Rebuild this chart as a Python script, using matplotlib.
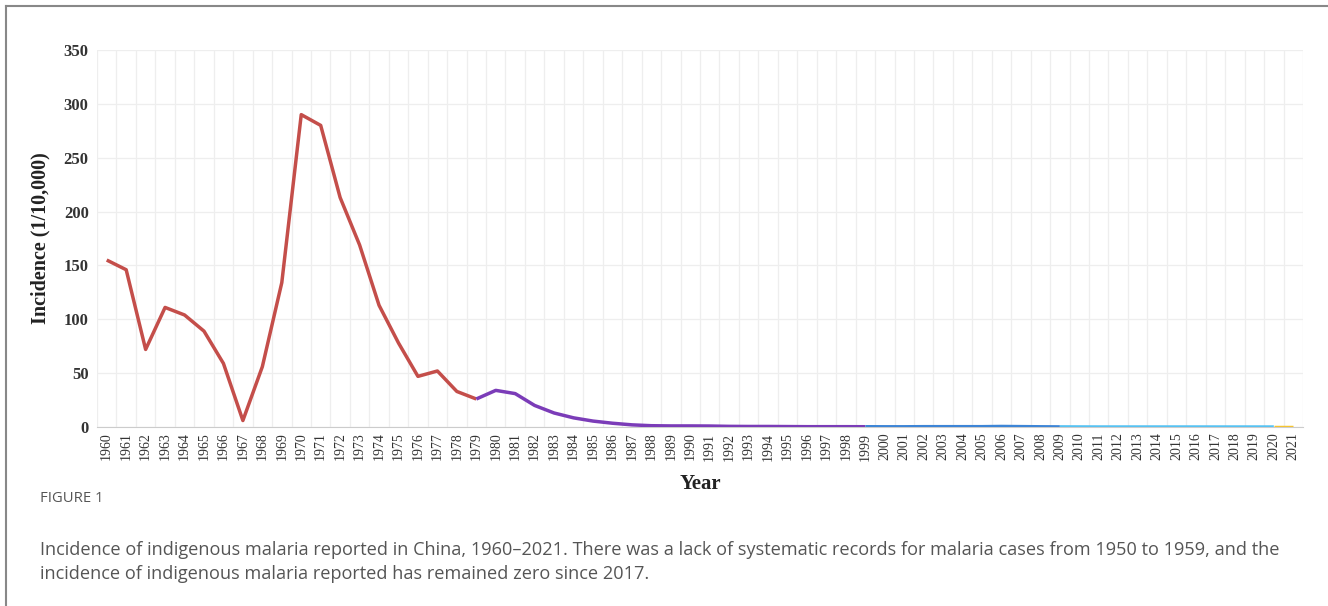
import numpy as np
import matplotlib.pyplot as plt
from matplotlib.lines import Line2D

# Incidence of indigenous malaria (1/10,000)
years = list(range(1960, 2022))
incidence = [155, 146, 72, 111, 104, 89, 59, 6, 56, 134,
             290, 280, 213, 169, 113, 78, 47, 52, 33, 26,
             34, 31, 20, 13, 8.5, 5.5, 3.5, 2.0, 1.2, 1.0,
             1.0, 0.9, 0.6, 0.5, 0.5, 0.4, 0.3, 0.3, 0.3, 0.25,
             0.2, 0.2, 0.3, 0.3, 0.3, 0.3, 0.5, 0.35, 0.2, 0.1,
             0.05, 0.01, 0.01, 0.01, 0.01, 0.01, 0.01, 0, 0, 0,
             0, 0]

# period boundaries (years) and colours of each period
period_edges = [1960, 1979, 1999, 2009, 2020, 2021]
period_colors = ['#c44e4a', '#7b3cb8', '#3d85d6', '#56c2f2', '#f5c431']

fig = plt.figure(figsize=(13.28, 6.06), dpi=100)
ax = fig.add_axes([97 / 1328, 1 - 427 / 606, 1206 / 1328, 377 / 606])

yr = np.array(years)
val = np.array(incidence)
for i, c in enumerate(period_colors):
    m = (yr >= period_edges[i]) & (yr <= period_edges[i + 1])
    ax.plot(yr[m], val[m], color=c, lw=2.5, solid_capstyle='butt', zorder=3)

ax.set_xlim(1959.5, 2021.5)
ax.set_ylim(0, 350)
ax.set_yticks(range(0, 351, 50))
ax.set_xticks(years)
ax.set_xticks(np.arange(1959.5, 2022, 1), minor=True)
ax.grid(False)
ax.grid(True, which='minor', axis='x', color='#eeeeee', lw=0.9)
ax.grid(True, which='major', axis='y', color='#eeeeee', lw=0.9)
ax.tick_params(axis='both', which='both', length=0)
ax.tick_params(axis='x', pad=4)
ax.tick_params(axis='y', pad=6)
for s in ['top', 'right', 'left']:
    ax.spines[s].set_visible(False)
ax.spines['bottom'].set_color('#cccccc')

serif = 'Liberation Serif'
ax.set_yticklabels([str(v) for v in range(0, 351, 50)], fontfamily=serif,
                   fontweight='bold', fontsize=12, color='#333333')
ax.set_xticklabels([str(y) for y in years], rotation=90, fontfamily=serif,
                   fontsize=10, color='#333333')
ax.set_ylabel('Incidence (1/10,000)', fontfamily=serif, fontweight='bold',
              fontsize=14.5, color='#222222')
ax.yaxis.set_label_coords(-(97 - 40) / 1206, 0.5)
ax.yaxis.label.set_va('center')
fig.text(700 / 1328, 1 - 484 / 606, 'Year', fontfamily=serif, fontweight='bold',
         fontsize=15, color='#222222', ha='center', va='center')

# caption
fig.text(40 / 1328, 1 - 498 / 606, 'FIGURE 1', fontfamily='Open Sans',
         fontsize=10.7, color='#555555', ha='left', va='center')
fig.text(40 / 1328, 1 - 550 / 606,
         'Incidence of indigenous malaria reported in China, 1960\u20132021. '
         'There was a lack of systematic records for malaria cases from 1950 to 1959, and the',
         fontfamily='Open Sans', fontsize=13.1, color='#555555', ha='left', va='center')
fig.text(40 / 1328, 1 - 574 / 606,
         'incidence of indigenous malaria reported has remained zero since 2017.',
         fontfamily='Open Sans', fontsize=13.1, color='#555555', ha='left', va='center')

# page frame (left and top edges)
fig.add_artist(Line2D([6 / 1328, 6 / 1328], [0, 1 - 6 / 606], color='#888888',
                      lw=1.5, transform=fig.transFigure))
fig.add_artist(Line2D([6 / 1328, 1], [1 - 6 / 606, 1 - 6 / 606], color='#888888',
                      lw=1.5, transform=fig.transFigure))

fig.savefig('out.png', dpi=100)
